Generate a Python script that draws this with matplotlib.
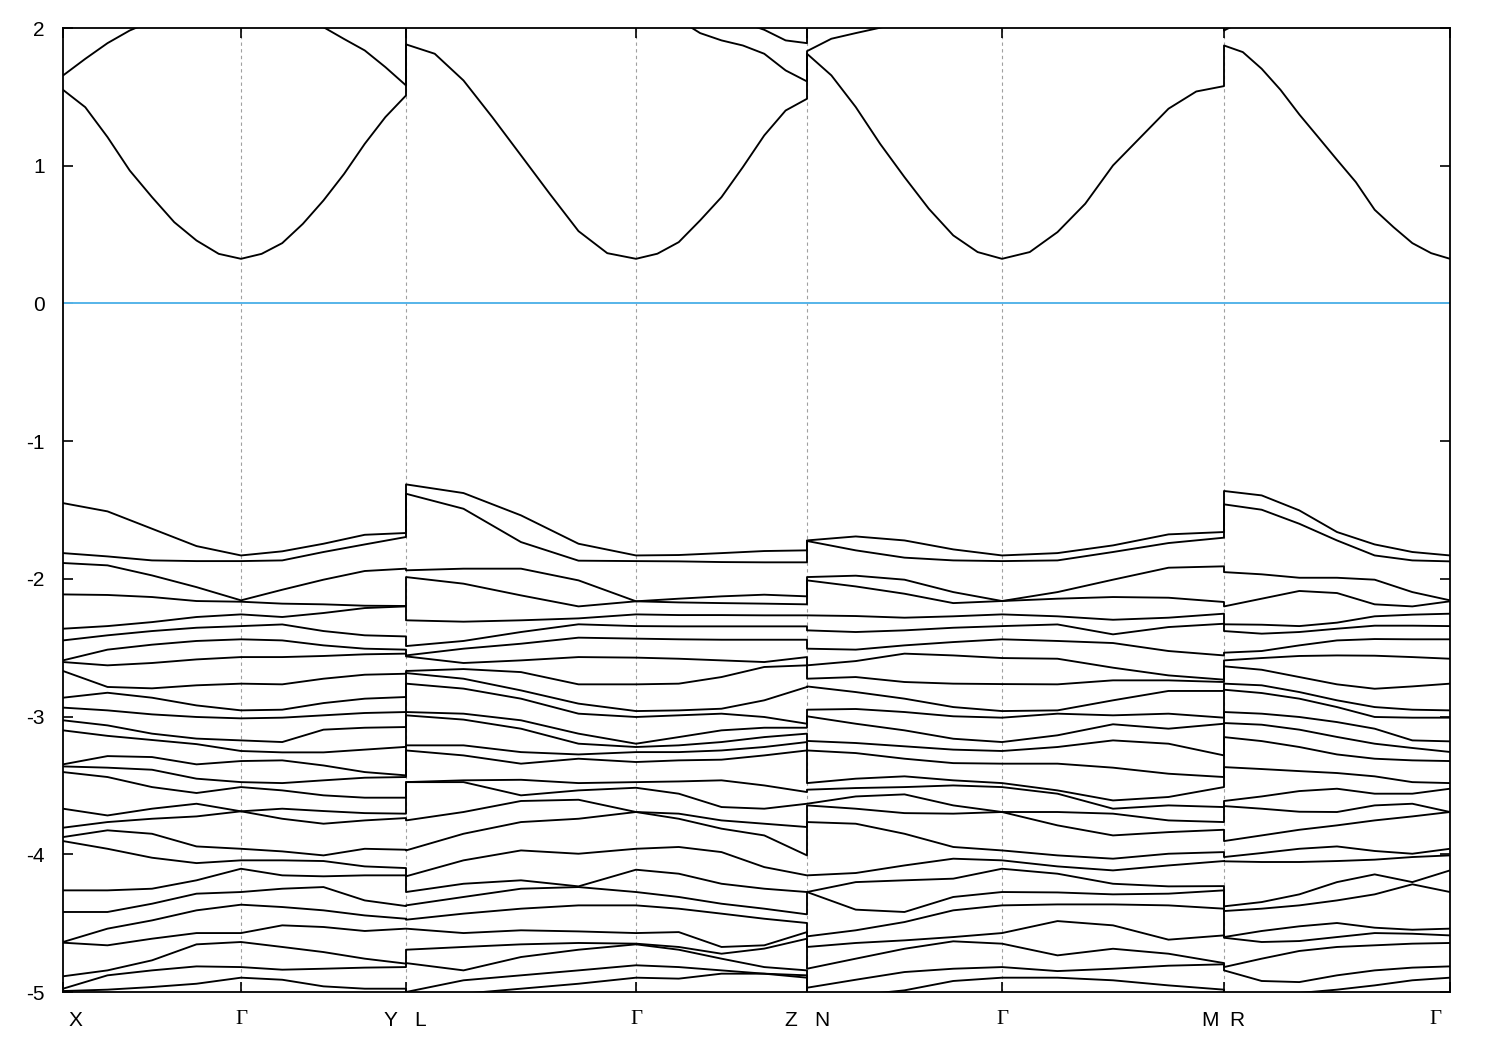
import numpy as np
import matplotlib
matplotlib.use('Agg')
import matplotlib.pyplot as plt
from matplotlib.transforms import ScaledTranslation

# ---------------- k-path ----------------
# lengths of the sub-paths X-G, G-Y | L-G, G-Z | N-G, G-M | R-G
sub_lengths = [1.78, 1.65, 2.30, 1.71, 1.95, 2.22, 2.26]
sym_labels = ["X", "Γ", "Y", "L", "Γ", "Z", "N", "Γ", "M", "R", "Γ"]
label_shift_px = [12, 0, -16, 14, 0, -16, 15, 0, -14, 13, -15]

# ---------------- conduction bands (eV), finer k grid ----------------
# segment 1: X -> G -> Y (17 k-points)
s1_cond = [
    [1.551, 1.425, 1.208, 0.965, 0.772, 0.590, 0.457, 0.360, 0.324, 0.360, 0.438, 0.578, 0.748, 0.941, 1.159, 1.353, 1.510],
    [1.655, 1.776, 1.890, 1.982, 2.050, 2.100, 2.130, 2.150, 2.150, 2.130, 2.100, 2.060, 2.006, 1.920, 1.837, 1.716, 1.583],
    [2.400] * 17,
]
# segment 2: L -> G -> Z (17 k-points)
s2_cond = [
    [1.881, 1.813, 1.619, 1.353, 1.075, 0.796, 0.525, 0.365, 0.324, 0.361, 0.445, 0.603, 0.772, 0.990, 1.220, 1.401, 1.486],
    [2.300, 2.300, 2.300, 2.300, 2.300, 2.250, 2.200, 2.170, 2.150, 2.100, 2.060, 1.963, 1.910, 1.873, 1.813, 1.692, 1.612],
    [2.400, 2.400, 2.400, 2.400, 2.400, 2.400, 2.400, 2.400, 2.400, 2.350, 2.300, 2.200, 2.120, 2.040, 1.987, 1.910, 1.890],
]
# segment 3: N -> G -> M (17 k-points)
s3_cond = [
    [1.813, 1.656, 1.426, 1.159, 0.917, 0.687, 0.494, 0.373, 0.324, 0.373, 0.518, 0.724, 1.002, 1.208, 1.414, 1.539, 1.578],
    [1.832, 1.922, 1.963, 2.002, 2.050, 2.100, 2.150, 2.200, 2.200, 2.200, 2.200, 2.200, 2.200, 2.200, 2.200, 2.150, 2.100],
    [2.400] * 17,
]
# segment 4: R -> G (13 k-points)
s4_cond = [
    [1.873, 1.825, 1.704, 1.551, 1.372, 1.208, 1.043, 0.881, 0.680, 0.554, 0.438, 0.365, 0.324],
    [1.982, 2.050, 2.100, 2.150, 2.200, 2.200, 2.200, 2.200, 2.200, 2.200, 2.200, 2.200, 2.200],
    [2.400] * 13,
]

# ---------------- valence bands (eV) ----------------
# segment 1: X -> G -> Y   (9 k-points)
s1_val = [
    [-1.450, -1.510, -1.636, -1.762, -1.830, -1.800, -1.745, -1.680, -1.667],
    [-1.813, -1.837, -1.866, -1.871, -1.871, -1.866, -1.805, -1.750, -1.696],
    [-1.885, -1.902, -1.975, -2.060, -2.156, -2.079, -2.006, -1.943, -1.926],
    [-2.113, -2.117, -2.132, -2.161, -2.166, -2.180, -2.185, -2.195, -2.197],
    [-2.362, -2.343, -2.314, -2.277, -2.258, -2.277, -2.248, -2.212, -2.200],
    [-2.447, -2.410, -2.379, -2.355, -2.343, -2.331, -2.379, -2.410, -2.418],
    [-2.592, -2.514, -2.478, -2.451, -2.439, -2.447, -2.483, -2.507, -2.514],
    [-2.604, -2.628, -2.611, -2.585, -2.568, -2.568, -2.560, -2.548, -2.543],
    [-2.669, -2.785, -2.795, -2.773, -2.761, -2.766, -2.725, -2.696, -2.689],
    [-2.863, -2.827, -2.863, -2.919, -2.955, -2.950, -2.902, -2.870, -2.858],
    [-2.935, -2.955, -2.984, -3.003, -3.013, -3.008, -2.991, -2.974, -2.967],
    [-3.027, -3.064, -3.124, -3.160, -3.173, -3.185, -3.095, -3.081, -3.076],
    [-3.100, -3.140, -3.170, -3.200, -3.250, -3.260, -3.260, -3.240, -3.220],
    [-3.347, -3.287, -3.294, -3.347, -3.323, -3.318, -3.355, -3.403, -3.427],
    [-3.362, -3.371, -3.386, -3.451, -3.476, -3.483, -3.463, -3.444, -3.439],
    [-3.403, -3.439, -3.512, -3.555, -3.512, -3.536, -3.572, -3.589, -3.589],
    [-3.669, -3.718, -3.669, -3.633, -3.688, -3.669, -3.686, -3.701, -3.705],
    [-3.807, -3.766, -3.742, -3.725, -3.688, -3.742, -3.778, -3.754, -3.737],
    [-3.875, -3.826, -3.851, -3.943, -3.960, -3.979, -4.008, -3.960, -3.967],
    [-3.904, -3.960, -4.025, -4.064, -4.044, -4.044, -4.049, -4.088, -4.100],
    [-4.262, -4.262, -4.250, -4.189, -4.105, -4.153, -4.160, -4.153, -4.153],
    [-4.419, -4.419, -4.359, -4.286, -4.274, -4.250, -4.238, -4.335, -4.376],
    [-4.637, -4.540, -4.480, -4.407, -4.366, -4.383, -4.407, -4.444, -4.468],
    [-4.642, -4.661, -4.613, -4.572, -4.572, -4.516, -4.528, -4.557, -4.540],
    [-4.886, -4.843, -4.770, -4.654, -4.637, -4.673, -4.710, -4.758, -4.794],
    [-4.976, -4.879, -4.843, -4.814, -4.819, -4.838, -4.831, -4.823, -4.819],
    [-4.993, -4.983, -4.964, -4.940, -4.896, -4.911, -4.959, -4.976, -4.976],
]

# segment 2: L -> G -> Z   (9 k-points)
s2_val = [
    [-1.314, -1.377, -1.539, -1.745, -1.830, -1.827, -1.813, -1.798, -1.793],
    [-1.382, -1.491, -1.733, -1.868, -1.871, -1.873, -1.878, -1.880, -1.880],
    [-1.938, -1.926, -1.926, -2.011, -2.163, -2.144, -2.127, -2.115, -2.127],
    [-1.987, -2.035, -2.120, -2.200, -2.163, -2.171, -2.176, -2.180, -2.185],
    [-2.301, -2.311, -2.301, -2.287, -2.258, -2.263, -2.263, -2.265, -2.265],
    [-2.488, -2.451, -2.386, -2.330, -2.343, -2.345, -2.345, -2.345, -2.345],
    [-2.556, -2.507, -2.471, -2.427, -2.434, -2.439, -2.442, -2.442, -2.442],
    [-2.563, -2.611, -2.592, -2.568, -2.572, -2.580, -2.592, -2.604, -2.568],
    [-2.669, -2.655, -2.677, -2.766, -2.766, -2.761, -2.713, -2.640, -2.628],
    [-2.684, -2.725, -2.810, -2.906, -2.960, -2.955, -2.943, -2.882, -2.785],
    [-2.761, -2.797, -2.870, -2.979, -3.003, -2.991, -2.979, -3.003, -3.052],
    [-2.967, -2.979, -3.027, -3.124, -3.197, -3.149, -3.100, -3.081, -3.081],
    [-2.991, -3.022, -3.088, -3.197, -3.221, -3.209, -3.185, -3.149, -3.124],
    [-3.209, -3.209, -3.258, -3.275, -3.258, -3.258, -3.246, -3.221, -3.185],
    [-3.246, -3.282, -3.342, -3.306, -3.330, -3.318, -3.313, -3.282, -3.246],
    [-3.476, -3.476, -3.572, -3.536, -3.517, -3.560, -3.657, -3.669, -3.633],
    [-3.476, -3.463, -3.459, -3.483, -3.476, -3.471, -3.463, -3.500, -3.548],
    [-3.754, -3.693, -3.613, -3.604, -3.693, -3.742, -3.814, -3.863, -4.008],
    [-3.972, -3.851, -3.766, -3.742, -3.693, -3.705, -3.754, -3.778, -3.802],
    [-4.160, -4.044, -3.972, -3.996, -3.960, -3.947, -3.984, -4.093, -4.153],
    [-4.274, -4.214, -4.189, -4.238, -4.112, -4.141, -4.214, -4.250, -4.274],
    [-4.371, -4.310, -4.250, -4.233, -4.274, -4.310, -4.359, -4.395, -4.436],
    [-4.475, -4.431, -4.395, -4.371, -4.371, -4.395, -4.431, -4.468, -4.499],
    [-4.540, -4.572, -4.552, -4.560, -4.572, -4.565, -4.673, -4.661, -4.613],
    [-4.693, -4.673, -4.654, -4.644, -4.649, -4.673, -4.722, -4.685, -4.565],
    [-4.790, -4.843, -4.746, -4.693, -4.654, -4.693, -4.758, -4.819, -4.843],
    [-5.000, -4.915, -4.879, -4.843, -4.806, -4.819, -4.843, -4.867, -4.879],
    [-5.060, -5.012, -4.976, -4.940, -4.896, -4.903, -4.867, -4.867, -4.896],
]

# segment 3: N -> G -> M   (9 k-points)
s3_val = [
    [-1.721, -1.692, -1.721, -1.786, -1.830, -1.813, -1.757, -1.677, -1.660],
    [-1.725, -1.793, -1.846, -1.866, -1.871, -1.866, -1.805, -1.740, -1.701],
    [-1.987, -1.977, -2.006, -2.096, -2.161, -2.096, -2.006, -1.919, -1.909],
    [-2.011, -2.055, -2.108, -2.176, -2.161, -2.144, -2.132, -2.137, -2.168],
    [-2.265, -2.270, -2.282, -2.272, -2.258, -2.272, -2.297, -2.282, -2.253],
    [-2.374, -2.386, -2.374, -2.355, -2.343, -2.331, -2.403, -2.350, -2.326],
    [-2.507, -2.514, -2.483, -2.459, -2.439, -2.451, -2.466, -2.524, -2.556],
    [-2.628, -2.597, -2.543, -2.556, -2.575, -2.580, -2.645, -2.701, -2.732],
    [-2.725, -2.713, -2.749, -2.761, -2.764, -2.766, -2.737, -2.737, -2.749],
    [-2.781, -2.822, -2.870, -2.931, -2.960, -2.955, -2.882, -2.814, -2.814],
    [-2.950, -2.945, -2.967, -2.998, -3.008, -2.979, -2.991, -2.979, -3.008],
    [-2.998, -3.052, -3.100, -3.161, -3.185, -3.136, -3.056, -3.088, -3.052],
    [-3.177, -3.192, -3.216, -3.240, -3.250, -3.221, -3.173, -3.197, -3.282],
    [-3.246, -3.265, -3.306, -3.338, -3.342, -3.342, -3.371, -3.415, -3.439],
    [-3.483, -3.451, -3.434, -3.463, -3.483, -3.536, -3.669, -3.584, -3.512],
    [-3.531, -3.519, -3.512, -3.500, -3.512, -3.560, -3.609, -3.645, -3.657],
    [-3.633, -3.580, -3.565, -3.645, -3.693, -3.693, -3.705, -3.754, -3.766],
    [-3.645, -3.669, -3.701, -3.705, -3.693, -3.790, -3.863, -3.839, -3.822],
    [-3.766, -3.778, -3.851, -3.947, -3.972, -4.008, -4.032, -3.996, -3.984],
    [-4.153, -4.136, -4.081, -4.032, -4.044, -4.088, -4.117, -4.081, -4.049],
    [-4.274, -4.202, -4.189, -4.177, -4.105, -4.141, -4.214, -4.233, -4.231],
    [-4.274, -4.402, -4.419, -4.310, -4.274, -4.277, -4.291, -4.286, -4.262],
    [-4.596, -4.552, -4.492, -4.407, -4.371, -4.364, -4.364, -4.371, -4.395],
    [-4.673, -4.644, -4.625, -4.601, -4.572, -4.485, -4.516, -4.620, -4.589],
    [-4.831, -4.758, -4.686, -4.632, -4.649, -4.734, -4.686, -4.722, -4.790],
    [-4.969, -4.911, -4.855, -4.831, -4.819, -4.848, -4.831, -4.809, -4.799],
    [-5.036, -5.024, -4.988, -4.920, -4.896, -4.896, -4.915, -4.952, -4.983],
]

# segment 4: R -> G   (7 k-points)
s4_val = [
    [-1.362, -1.394, -1.503, -1.660, -1.750, -1.805, -1.830],
    [-1.459, -1.498, -1.600, -1.721, -1.830, -1.866, -1.873],
    [-1.951, -1.967, -1.992, -1.992, -2.006, -2.096, -2.156],
    [-2.200, -2.144, -2.088, -2.103, -2.185, -2.200, -2.163],
    [-2.330, -2.333, -2.343, -2.318, -2.272, -2.260, -2.253],
    [-2.379, -2.398, -2.386, -2.362, -2.340, -2.340, -2.343],
    [-2.536, -2.524, -2.483, -2.447, -2.437, -2.439, -2.439],
    [-2.592, -2.575, -2.560, -2.556, -2.558, -2.568, -2.580],
    [-2.635, -2.660, -2.713, -2.766, -2.798, -2.781, -2.761],
    [-2.761, -2.773, -2.822, -2.882, -2.931, -2.950, -2.955],
    [-2.805, -2.829, -2.870, -2.931, -3.003, -3.008, -3.008],
    [-2.967, -2.979, -3.003, -3.040, -3.088, -3.173, -3.180],
    [-3.047, -3.059, -3.095, -3.148, -3.197, -3.228, -3.257],
    [-3.149, -3.178, -3.221, -3.275, -3.306, -3.318, -3.323],
    [-3.367, -3.381, -3.396, -3.410, -3.434, -3.476, -3.483],
    [-3.613, -3.580, -3.541, -3.524, -3.560, -3.560, -3.524],
    [-3.650, -3.669, -3.691, -3.693, -3.645, -3.633, -3.693],
    [-3.904, -3.863, -3.822, -3.790, -3.754, -3.725, -3.693],
    [-4.020, -3.991, -3.960, -3.943, -3.976, -3.996, -3.960],
    [-4.051, -4.056, -4.056, -4.049, -4.039, -4.020, -4.008],
    [-4.378, -4.347, -4.291, -4.202, -4.146, -4.202, -4.274],
    [-4.412, -4.395, -4.371, -4.335, -4.291, -4.218, -4.117],
    [-4.601, -4.557, -4.523, -4.499, -4.533, -4.548, -4.540],
    [-4.606, -4.637, -4.630, -4.601, -4.572, -4.577, -4.589],
    [-4.819, -4.758, -4.702, -4.673, -4.661, -4.649, -4.644],
    [-4.843, -4.920, -4.928, -4.879, -4.843, -4.823, -4.814],
    [-5.024, -5.017, -5.007, -4.983, -4.952, -4.915, -4.896],
]

fermi_level = 0.0

# ---------------- build k coordinates ----------------
nodes = np.concatenate([[0.0], np.cumsum(sub_lengths)])


def seg_k(i0, i1, nper):
    ks = []
    for j in range(i0, i1):
        pts = np.linspace(nodes[j], nodes[j + 1], nper)
        ks.append(pts if j == i0 else pts[1:])
    return np.concatenate(ks)


def build(mats, kgrids, pad_value):
    ms = [-np.sort(-np.array(m), axis=0) for m in mats]  # energy-ordered bands
    nb = max(m.shape[0] for m in ms)
    out = []
    for m in ms:
        if m.shape[0] < nb:
            m = np.vstack([m, np.full((nb - m.shape[0], m.shape[1]), pad_value)])
        out.append(m)
    return np.concatenate(kgrids), np.hstack(out)


node_ranges = [(0, 2), (2, 4), (4, 6), (6, 7)]
k_val_grids = [seg_k(a, b, 5 if b - a == 2 else 7) for a, b in node_ranges]
k_cond_grids = [seg_k(a, b, 9 if b - a == 2 else 13) for a, b in node_ranges]

k_v, e_v = build([s1_val, s2_val, s3_val, s4_val], k_val_grids, -5.6)
k_c, e_c = build([s1_cond, s2_cond, s3_cond, s4_cond], k_cond_grids, 2.6)

# ---------------- plot ----------------
plt.rcParams['font.family'] = ['Liberation Sans', 'DejaVu Sans']
fig = plt.figure(figsize=(15, 10.5), dpi=100)
ax = fig.add_axes([63 / 1500, 1 - 992 / 1050, 1387 / 1500, 964 / 1050])

tick_pos = list(nodes)
for xp in tick_pos[1:-1]:
    ax.axvline(xp, color='#a0a0a0', lw=0.8, ls=(0, (3, 3)), zorder=1)

ax.axhline(fermi_level, color='#56b4e9', lw=1.4, zorder=2)

for b in range(e_v.shape[0]):
    ax.plot(k_v, e_v[b], color='black', lw=1.35, zorder=3, solid_joinstyle='round')
for b in range(e_c.shape[0]):
    ax.plot(k_c, e_c[b], color='black', lw=1.35, zorder=3, solid_joinstyle='round')

ax.set_xlim(nodes[0], nodes[-1])
ax.set_ylim(-5, 2)
ax.set_yticks(range(-5, 3))
ax.set_yticklabels([str(v) for v in range(-5, 3)], fontsize=15)
ax.set_xticks(tick_pos)
ax.set_xticklabels([])
ax.tick_params(axis='both', direction='in', length=7.5, width=1.2,
               top=True, right=True, color='black')
ax.tick_params(axis='y', pad=13)
for sp in ax.spines.values():
    sp.set_linewidth(1.3)
    sp.set_color('black')

label_pos = [nodes[0], nodes[1], nodes[2], nodes[2], nodes[3], nodes[4], nodes[4],
             nodes[5], nodes[6], nodes[6], nodes[7]]
for lab, xp, dx in zip(sym_labels, label_pos, label_shift_px):
    fam = ['Liberation Serif', 'DejaVu Serif'] if lab == 'Γ' else ['Liberation Sans', 'DejaVu Sans']
    tr = ax.get_xaxis_transform() + ScaledTranslation(dx / 100, -28 / 100, fig.dpi_scale_trans)
    ax.text(xp, 0, lab, transform=tr, ha='center', va='center', fontsize=15, family=fam)

fig.savefig('out.png', dpi=100)
